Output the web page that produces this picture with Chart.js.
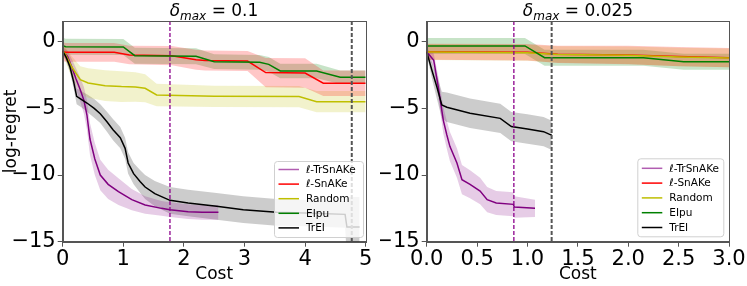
<!DOCTYPE html>
<html><head><meta charset="utf-8">
<script src="https://cdn.jsdelivr.net/npm/chart.js@4.4.1/dist/chart.umd.min.js"></script>
<style>
body{margin:0;background:#fff;width:747px;height:286px;overflow:hidden;position:relative;font-family:"DejaVu Sans",sans-serif;}
canvas{position:absolute;top:0;}
#c1{left:0}
#c2{left:380px}
.title{position:absolute;top:0px;font-size:17px;line-height:20px;white-space:nowrap;transform:translateX(-50%);color:#000;}
.title sub{font-size:12px;vertical-align:-4px;line-height:0;}
</style></head><body>
<canvas id="c1" width="380" height="286"></canvas>
<canvas id="c2" width="367" height="286"></canvas>
<div class="title" style="left:214px"><i>δ</i><sub><i>max</i></sub> = 0.1</div>
<div class="title" style="left:578px"><i>δ</i><sub><i>max</i></sub> = 0.025</div>
<script>
// ---------- DATA ----------
const seriesNames = ['\u2113-TrSnAKe', '\u2113-SnAKe', 'Random', 'EIpu', 'TrEI'];
const xTicksLeft = [0, 1, 2, 3, 4, 5];
const xTicksRight = [0, 0.5, 1.0, 1.5, 2.0, 2.5, 3.0];
const yTicks = [0, -5, -10, -15];
const leftVlines = [1.77, 4.77];
const rightVlines = [0.865, 1.24];

// Left panel (delta_max = 0.1)
const L_trsnake_x = [0, 0.08, 0.15, 0.22, 0.29, 0.35, 0.40, 0.45, 0.53, 0.62, 0.75, 0.92, 1.14, 1.36, 1.63, 1.77, 2.07, 2.3, 2.57];
const L_trsnake_y = [-0.7, -1.1, -1.9, -2.8, -3.6, -4.4, -5.5, -7.3, -8.8, -10.0, -10.7, -11.25, -11.85, -12.25, -12.5, -12.6, -12.75, -12.8, -12.8];
const L_trsnake_sd = [0.3, 0.4, 0.6, 0.8, 0.9, 1.0, 1.1, 1.2, 1.2, 1.15, 1.1, 1.0, 0.8, 0.65, 0.55, 0.55, 0.55, 0.55, 0.55];

const L_snake_x = [0, 0.05, 0.85, 1.1, 1.8, 2.2, 2.35, 3.05, 3.35, 4.0, 4.3, 5.0];
const L_snake_y = [-0.75, -0.8, -0.8, -1.0, -1.05, -1.35, -1.42, -1.45, -2.32, -2.35, -3.12, -3.12];
const L_snake_sd = [0.7, 0.7, 0.7, 0.7, 0.72, 0.75, 0.75, 0.75, 1.1, 1.1, 0.95, 0.95];

const L_random_x = [0, 0.04, 0.15, 0.29, 0.42, 0.7, 0.97, 1.2, 1.36, 1.55, 2.5, 3.9, 4.19, 5.0];
const L_random_y = [-0.7, -0.9, -1.9, -2.85, -3.1, -3.3, -3.37, -3.4, -3.5, -4.0, -4.1, -4.12, -4.5, -4.5];
const L_random_sd = [0.4, 0.5, 0.8, 1.0, 1.1, 1.15, 1.15, 1.1, 1.05, 0.85, 0.8, 0.8, 0.8, 0.8];

const L_eipu_x = [0, 0.05, 1.0, 1.19, 2.2, 2.5, 3.25, 3.4, 3.59, 4.19, 4.58, 5.0];
const L_eipu_y = [-0.3, -0.38, -0.4, -1.05, -1.1, -1.5, -1.55, -1.7, -2.2, -2.2, -2.67, -2.67];
const L_eipu_sd = [0.6, 0.6, 0.6, 0.6, 0.6, 0.55, 0.55, 0.55, 0.55, 0.55, 0.5, 0.5];

const L_trei_x = [0, 0.06, 0.12, 0.18, 0.23, 0.30, 0.40, 0.52, 0.62, 0.73, 0.83, 0.95, 1.03, 1.08, 1.17, 1.28, 1.36, 1.52, 1.77, 2.07, 2.54, 2.98, 3.53, 4.0, 4.66, 4.69, 4.9];
const L_trei_y = [-0.7, -1.2, -1.9, -3.0, -4.1, -4.3, -4.6, -5.0, -5.4, -6.0, -6.6, -7.2, -8.0, -9.1, -9.9, -10.5, -10.9, -11.4, -11.9, -12.1, -12.35, -12.6, -12.8, -12.85, -12.95, -13.9, -13.9];
const L_trei_sd = [0.2, 0.3, 0.4, 0.5, 0.6, 0.6, 0.65, 0.7, 0.7, 0.75, 0.8, 0.8, 0.8, 0.8, 0.8, 0.85, 0.9, 0.95, 1.0, 1.0, 1.0, 1.0, 1.0, 1.0, 1.0, 2.25, 2.25];

// Right panel (delta_max = 0.025)
const R_trsnake_x = [0, 0.07, 0.115, 0.165, 0.2, 0.23, 0.3, 0.35, 0.43, 0.53, 0.6, 0.69, 0.86, 0.87, 1.075];
const R_trsnake_y = [-0.75, -1.4, -3.4, -5.9, -7.0, -7.85, -9.1, -10.35, -10.7, -11.2, -11.85, -12.1, -12.2, -12.4, -12.5];
const R_trsnake_sd = [0.2, 0.5, 0.8, 1.0, 1.05, 1.1, 1.1, 1.1, 1.05, 1.0, 0.95, 0.9, 0.9, 0.8, 0.65];

const R_snake_x = [0, 1.0, 1.3, 2.0, 2.5, 3.0];
const R_snake_y = [-0.75, -0.8, -0.95, -1.0, -1.12, -1.2];
const R_snake_sd = [0.6, 0.62, 0.65, 0.7, 0.72, 0.72];

const R_random_x = [0, 1.0, 1.3, 2.0, 2.5, 3.0];
const R_random_y = [-0.78, -0.83, -0.97, -1.02, -1.15, -1.22];
const R_random_sd = [0.6, 0.6, 0.62, 0.66, 0.7, 0.7];

const R_eipu_x = [0, 0.975, 1.17, 2.15, 2.55, 3.0];
const R_eipu_y = [-0.32, -0.32, -1.2, -1.2, -1.5, -1.5];
const R_eipu_sd = [0.6, 0.6, 0.6, 0.6, 0.6, 0.6];

const R_trei_x = [0, 0.05, 0.1, 0.15, 0.2, 0.43, 0.73, 0.84, 1.0, 1.16, 1.22, 1.24];
const R_trei_y = [-0.75, -2.1, -3.37, -4.75, -4.92, -5.37, -5.75, -6.37, -6.55, -6.75, -6.95, -7.0];
const R_trei_sd = [0.2, 0.6, 0.9, 1.0, 1.1, 1.1, 1.1, 1.1, 1.1, 1.1, 1.1, 1.1];

// ---------- STYLE ----------
const Y_MIN = -15, Y_MAX = 1.55;
const FONT = 'DejaVu Sans';
const colors = ['#800080', '#ff0000', '#bfbf00', '#008000', '#000000'];
const bands = ['rgba(128,0,128,0.2)', 'rgba(255,0,0,0.22)', 'rgba(191,191,0,0.2)', 'rgba(0,128,0,0.22)', 'rgba(0,0,0,0.2)'];
const lineOrder = [5, 4, 3, 2, 1];

function series(idx, xs, ys, sd) {
  const up = xs.map((x, i) => ({x, y: ys[i] + sd[i]}));
  const lo = xs.map((x, i) => ({x, y: ys[i] - sd[i]}));
  const mid = xs.map((x, i) => ({x, y: ys[i]}));
  return {
    band: [
      {data: up, borderWidth: 0, borderColor: 'rgba(0,0,0,0)', pointRadius: 0, fill: '+1', backgroundColor: bands[idx], order: 10},
      {data: lo, borderWidth: 0, borderColor: 'rgba(0,0,0,0)', pointRadius: 0, fill: false, order: 10}
    ],
    line: {data: mid, borderColor: colors[idx], borderWidth: 1.5, pointRadius: 0, fill: false, order: lineOrder[idx]}
  };
}

function vline(x, color, width, dash) {
  return {data: [{x, y: Y_MAX}, {x, y: Y_MIN}], borderColor: color, borderWidth: width, borderDash: dash, pointRadius: 0, fill: false, order: 0};
}

function buildDatasets(list, vl) {
  const ds = [];
  const lines = [];
  list.forEach((s, i) => { const r = series(i, s[0], s[1], s[2]); ds.push(...r.band); lines.push(r.line); });
  ds.push(...lines);
  ds.push(vline(vl[0], '#8b008b', 1.3, [4, 2]));
  ds.push(vline(vl[1], '#555555', 2, [4, 2]));
  return ds;
}

const framePlugin = {
  id: 'frame',
  afterDraw(chart) {
    const a = chart.chartArea, ctx = chart.ctx;
    ctx.save();
    ctx.strokeStyle = '#555';
    ctx.lineWidth = 1;
    ctx.strokeRect(Math.round(a.left) + 0.5, Math.round(a.top) + 0.5, Math.round(a.right - a.left), Math.round(a.bottom - a.top));
    ctx.restore();
  }
};

const legendPlugin = {
  id: 'boxLegend',
  afterDraw(chart, args, o) {
    const a = chart.chartArea, ctx = chart.ctx;
    const w = o.w, h = o.h;
    const x0 = a.right - o.dx - w, y0 = a.bottom - o.dy - h;
    ctx.save();
    ctx.beginPath();
    if (ctx.roundRect) ctx.roundRect(x0 + 0.5, y0 + 0.5, w, h, 3); else ctx.rect(x0 + 0.5, y0 + 0.5, w, h);
    ctx.fillStyle = 'rgba(255,255,255,0.8)';
    ctx.fill();
    ctx.strokeStyle = '#d0d0d0';
    ctx.lineWidth = 1;
    ctx.stroke();
    ctx.font = '10.5px "' + FONT + '"';
    ctx.textBaseline = 'middle';
    ctx.fillStyle = '#000';
    seriesNames.forEach((n, i) => {
      const y = y0 + o.first + i * o.step;
      ctx.beginPath();
      ctx.strokeStyle = i === 0 ? '#b15db1' : colors[i];
      ctx.lineWidth = 1.5;
      ctx.moveTo(x0 + 4.5, y);
      ctx.lineTo(x0 + 25, y);
      ctx.stroke();
      ctx.fillText(n, x0 + 32, y + 0.5);
    });
    ctx.restore();
  }
};

const minus = v => (v < 0 ? '\u2212' + Math.abs(v) : '' + v);

function makeOptions(xmax, xticks, xfmt, yWidth, padRight, showYTitle, leg) {
  return {
    animation: false, responsive: false, events: [],
    layout: {padding: {top: 21, right: padRight, left: 0, bottom: 0}},
    plugins: {legend: {display: false}, tooltip: {enabled: false}, boxLegend: leg},
    scales: {
      x: {
        type: 'linear', min: 0, max: xmax,
        afterFit(s) { s.height = 44.3; },
        afterBuildTicks(s) { s.ticks = xticks.map(v => ({value: v})); },
        ticks: {font: {size: 21, family: FONT}, color: '#000', padding: 0, maxRotation: 0, autoSkip: false, callback: xfmt},
        grid: {display: true, drawOnChartArea: false, drawTicks: true, tickLength: 5, color: '#555'},
        border: {display: true, color: '#555', width: 1},
        title: {display: true, text: 'Cost', font: {size: 17, family: FONT}, color: '#000', padding: {top: 0, bottom: 1}}
      },
      y: {
        type: 'linear', min: Y_MIN, max: Y_MAX,
        afterFit(s) { s.width = yWidth; },
        afterBuildTicks(s) { s.ticks = yTicks.map(v => ({value: v})); },
        ticks: {font: {size: 21, family: FONT}, color: '#000', padding: 2, callback: minus},
        grid: {display: true, drawOnChartArea: false, drawTicks: true, tickLength: 5, color: '#555'},
        border: {display: true, color: '#555', width: 1},
        title: {display: showYTitle, text: 'log-regret', font: {size: 17, family: FONT}, color: '#000', padding: {top: 1, bottom: 0}}
      }
    }
  };
}

new Chart(document.getElementById('c1'), {
  type: 'line',
  data: {datasets: buildDatasets([
    [L_trsnake_x, L_trsnake_y, L_trsnake_sd],
    [L_snake_x, L_snake_y, L_snake_sd],
    [L_random_x, L_random_y, L_random_sd],
    [L_eipu_x, L_eipu_y, L_eipu_sd],
    [L_trei_x, L_trei_y, L_trei_sd]
  ], leftVlines)},
  options: makeOptions(5, xTicksLeft, v => '' + v, 62.7, 14.3, true, {w: 89, h: 76, dx: 2.7, dy: 4.7, first: 8.5, step: 14.6}),
  plugins: [framePlugin, legendPlugin]
});

new Chart(document.getElementById('c2'), {
  type: 'line',
  data: {datasets: buildDatasets([
    [R_trsnake_x, R_trsnake_y, R_trsnake_sd],
    [R_snake_x, R_snake_y, R_snake_sd],
    [R_random_x, R_random_y, R_random_sd],
    [R_eipu_x, R_eipu_y, R_eipu_sd],
    [R_trei_x, R_trei_y, R_trei_sd]
  ], rightVlines)},
  options: makeOptions(3, xTicksRight, v => v.toFixed(1), 46.7, 18, false, {w: 86, h: 78, dx: 5.7, dy: 5.4, first: 10, step: 14.8}),
  plugins: [framePlugin, legendPlugin]
});
</script>
</body></html>
